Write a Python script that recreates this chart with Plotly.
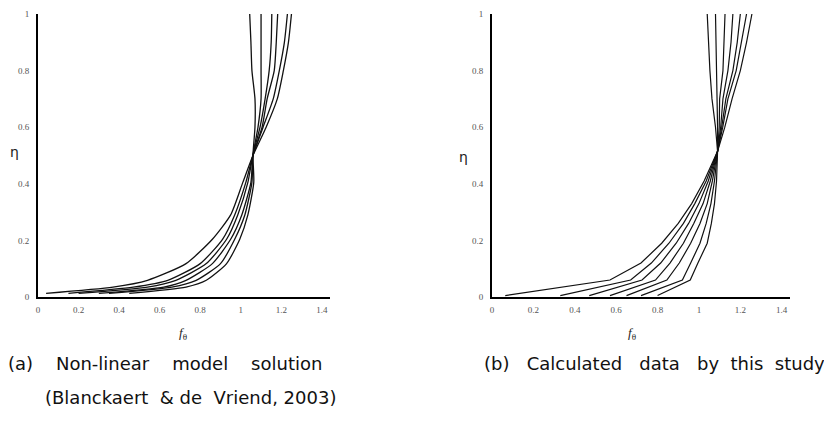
import plotly.graph_objects as go

# ---------------- data ----------------
# (a) Non-linear model solution: eta levels and f_theta for six profiles
ETA_A = [0.013, 0.035, 0.059, 0.118, 0.204, 0.29, 0.405, 0.5, 0.6, 0.7, 0.8, 0.9, 1.0]
F_A1 = [0.04, 0.37, 0.54, 0.73, 0.86, 0.95, 1.01, 1.06, 1.125, 1.18, 1.21, 1.235, 1.25]
F_A2 = [0.15, 0.47, 0.64, 0.80, 0.91, 0.97, 1.025, 1.06, 1.11, 1.16, 1.19, 1.215, 1.23]
F_A3 = [0.20, 0.54, 0.68, 0.83, 0.93, 0.985, 1.035, 1.06, 1.105, 1.13, 1.165, 1.175, 1.182]
F_A4 = [0.30, 0.62, 0.73, 0.86, 0.95, 1.005, 1.05, 1.06, 1.095, 1.12, 1.14, 1.15, 1.153]
F_A5 = [0.35, 0.66, 0.78, 0.90, 0.97, 1.02, 1.055, 1.06, 1.085, 1.10, 1.10, 1.10, 1.10]
F_A6 = [0.45, 0.73, 0.83, 0.93, 0.995, 1.035, 1.064, 1.06, 1.07, 1.07, 1.055, 1.05, 1.044]

# (b) Calculated data by this study: eta levels and f_theta for seven profiles
ETA_B = [0.005, 0.06, 0.12, 0.19, 0.26, 0.33, 0.41, 0.515, 0.6, 0.7, 0.8, 0.9, 1.0]
F_B1 = [0.064, 0.57, 0.72, 0.82, 0.90, 0.965, 1.025, 1.09, 1.125, 1.16, 1.20, 1.23, 1.256]
F_B2 = [0.33, 0.67, 0.77, 0.855, 0.925, 0.98, 1.035, 1.09, 1.115, 1.14, 1.18, 1.205, 1.23]
F_B3 = [0.47, 0.725, 0.815, 0.89, 0.95, 1.0, 1.045, 1.09, 1.11, 1.13, 1.164, 1.185, 1.20]
F_B4 = [0.57, 0.79, 0.86, 0.925, 0.975, 1.02, 1.055, 1.09, 1.105, 1.116, 1.14, 1.155, 1.164]
F_B5 = [0.65, 0.845, 0.905, 0.96, 1.005, 1.04, 1.065, 1.09, 1.098, 1.10, 1.116, 1.12, 1.126]
F_B6 = [0.72, 0.92, 0.96, 1.005, 1.035, 1.058, 1.075, 1.09, 1.09, 1.087, 1.087, 1.083, 1.08]
F_B7 = [0.80, 0.958, 0.995, 1.04, 1.06, 1.075, 1.085, 1.09, 1.08, 1.063, 1.053, 1.045, 1.04]

X_TICKS = [0, 0.2, 0.4, 0.6, 0.8, 1, 1.2, 1.4]
X_TICK_TEXT = ["0", "0.2", "0.4", "0.6", "0.8", "1", "1.2", "1.4"]
Y_TICKS = [0, 0.2, 0.4, 0.6, 0.8, 1]
Y_TICK_TEXT = ["0", "0.2", "0.4", "0.6", "0.8", "1"]

CAPTION_A1 = "(a)    Non-linear    model    solution"
CAPTION_A2 = "(Blanckaert  & de  Vriend, 2003)"
CAPTION_B = "(b)   Calculated   data   by  this  study"

# ---------------- figure ----------------
W, H = 832, 425
OFF = 8  # the page body adds an 8 px margin; positions below are page pixels


def px(x):
    return (x - OFF) / W


def py(y):
    return (H - (y - OFF)) / H


fig = go.Figure()

for f in [F_A1, F_A2, F_A3, F_A4, F_A5, F_A6]:
    fig.add_trace(go.Scatter(x=f, y=ETA_A, mode="lines", xaxis="x", yaxis="y",
                             line=dict(color="#111111", width=1.3, shape="spline", smoothing=0.6),
                             showlegend=False, hoverinfo="skip", cliponaxis=False))
for f in [F_B1, F_B2, F_B3, F_B4, F_B5, F_B6, F_B7]:
    fig.add_trace(go.Scatter(x=f, y=ETA_B, mode="lines", xaxis="x2", yaxis="y2",
                             line=dict(color="#111111", width=1.2),
                             showlegend=False, hoverinfo="skip", cliponaxis=False))

ydom = [py(297), py(14)]
tickfont = dict(family="Liberation Serif", size=9, color="#555555")
common_x = dict(range=[0, 1.44], showgrid=False, zeroline=False, showline=True,
                linecolor="black", linewidth=2, ticks="", tickvals=X_TICKS,
                ticktext=X_TICK_TEXT, tickfont=tickfont, ticklabelstandoff=3,
                automargin=False, ticklabeloverflow="allow")
common_y = dict(range=[0, 1.0], showgrid=False, zeroline=False, showline=True,
                linecolor="black", linewidth=2, ticks="", tickvals=Y_TICKS,
                ticktext=Y_TICK_TEXT, tickfont=tickfont, domain=ydom, ticklabelstandoff=5,
                automargin=False, ticklabeloverflow="allow")

fig.update_layout(
    width=W, height=H, margin=dict(l=0, r=0, t=0, b=0, autoexpand=False),
    paper_bgcolor="white", plot_bgcolor="white",
    xaxis=dict(domain=[px(38), px(330)], anchor="y", **common_x),
    yaxis=dict(anchor="x", **common_y),
    xaxis2=dict(domain=[px(492), px(790)], anchor="y2", **common_x),
    yaxis2=dict(anchor="x2", **common_y),
)

ann_font_cap = dict(family="DejaVu Sans", size=18, color="#111111")
anns = [
    dict(x=px(14), y=py(152), text="η", font=dict(family="DejaVu Sans", size=14, color="#222")),
    dict(x=px(463), y=py(157), text="η", font=dict(family="DejaVu Sans", size=14, color="#222")),
    dict(x=px(183), y=py(333), text="<i>f</i><sub>θ</sub>", font=dict(family="Liberation Serif", size=13, color="#222")),
    dict(x=px(632), y=py(333), text="<i>f</i><sub>θ</sub>", font=dict(family="Liberation Serif", size=13, color="#222")),
    dict(x=px(165), y=py(363), text=CAPTION_A1, font=ann_font_cap),
    dict(x=px(190), y=py(397), text=CAPTION_A2, font=ann_font_cap),
    dict(x=px(654), y=py(363), text=CAPTION_B, font=ann_font_cap),
]
for a in anns:
    a.update(xref="paper", yref="paper", xanchor="center", yanchor="middle", showarrow=False)
fig.update_layout(annotations=anns)

fig.write_html("out.html")
